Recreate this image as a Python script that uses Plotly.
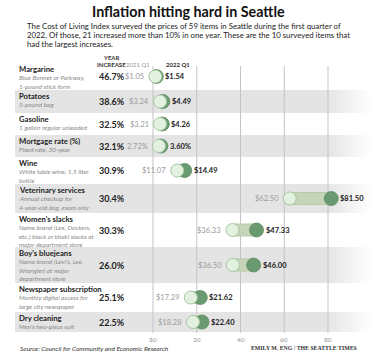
import plotly.graph_objects as go

# ---------------- data ----------------
items = ["Margarine", "Potatoes", "Gasoline", "Mortgage rate (%)", "Wine",
         "Veterinary services", "Women's slacks", "Boy's bluejeans",
         "Newspaper subscription", "Dry cleaning"]
details = [
    ["Blue Bonnet or Parkway,", "1-pound stick form"],
    ["5-pound bag"],
    ["1 gallon regular unleaded"],
    ["Fixed rate, 30-year"],
    ["White table wine, 1.5 liter", "bottle"],
    ["Annual checkup for", "4-year-old dog, exam only"],
    ["Name brand (Lee, Dockers,", "etc.) black or khaki slacks at", "major department store"],
    ["Name brand (Levi's, Lee,", "Wrangler) at major", "department store"],
    ["Monthly digital access for", "large city newspaper"],
    ["Men's two-piece suit"],
]
pct_increase = [46.7, 38.6, 32.5, 32.1, 30.9, 30.4, 30.3, 26.0, 25.1, 22.5]
q1_2021 = [1.05, 3.24, 3.21, 2.72, 11.07, 62.50, 36.33, 36.50, 17.29, 18.28]
q1_2022 = [1.54, 4.49, 4.26, 3.60, 14.49, 81.50, 47.33, 46.00, 21.62, 22.40]
unit_is_pct = [False, False, False, True, False, False, False, False, False, False]
tick_vals = [0, 20, 40, 60, 80]
tick_text = ["$0", "20", "40", "60", "80"]

title = "Inflation hitting hard in Seattle"
subtitle = ["The Cost of Living Index surveyed the prices of 59 items in Seattle during the first quarter of",
            "2022. Of those, 21 increased more than 10% in one year. These are the 10 surveyed items that",
            "had the largest increases."]
source = "Source: Council for Community and Economic Research"
credit = "EMILY M. ENG / THE SEATTLE TIMES"

# ---------------- layout helpers ----------------
W, H = 375, 359
row_edges = [63, 90, 113, 135, 157, 184, 213, 247, 283, 312, 332]
zero_px, px_per_unit = 153.0, 2.1875
x_lo = -zero_px / px_per_unit
x_hi = (W - zero_px) / px_per_unit

FONT = "Lato"
DARK = "#6a9a70"
LIGHT = "#e3f1e1"
LIGHT_EDGE = "#a6c9a3"
PILL = "#c6d5b8"
BAND = "#e4e4e4"

def fmt(v, pct):
    return f"{v:.2f}%" if pct else f"${v:.2f}"

centers = [(row_edges[i] + row_edges[i + 1]) / 2 for i in range(len(items))]

fig = go.Figure()
shapes = []
annotations = []

# background bands
for i in range(len(items)):
    if i % 2 == 1:
        y0, y1 = row_edges[i], row_edges[i + 1]
        shapes.append(dict(type="rect", xref="paper", yref="y", x0=15 / W, x1=328 / W,
                           y0=y0, y1=y1, fillcolor=BAND, line_width=0, layer="below"))
        steps = 14
        for s in range(steps):
            xa = 328 + s * 3
            op = 1 - (s + 1) / (steps + 1)
            shapes.append(dict(type="rect", xref="paper", yref="y", x0=xa / W, x1=(xa + 3) / W,
                               y0=y0, y1=y1, fillcolor=BAND, opacity=op, line_width=0, layer="below"))

# gridlines
for tv, tt in zip(tick_vals, tick_text):
    shapes.append(dict(type="line", xref="x", yref="y", x0=tv, x1=tv, y0=66, y1=333,
                       line=dict(color="#c4c4c4", width=1), layer="below"))
    annotations.append(dict(x=tv, y=339, xref="x", yref="y", text=tt, showarrow=False,
                            font=dict(family=FONT, size=6.5, color="#9a9a9a"),
                            xanchor="center", yanchor="middle"))

# pills
for i in range(len(items)):
    fig.add_trace(go.Scatter(x=[q1_2021[i], q1_2022[i]], y=[centers[i], centers[i]],
                             mode="lines", line=dict(color="#b7caa9", width=13),
                             hoverinfo="skip", showlegend=False))
    fig.add_trace(go.Scatter(x=[q1_2021[i], q1_2022[i]], y=[centers[i], centers[i]],
                             mode="lines", line=dict(color=PILL, width=11),
                             hoverinfo="skip", showlegend=False))

fig.add_trace(go.Scatter(x=q1_2022, y=centers, mode="markers",
                         marker=dict(size=14, color=DARK, line=dict(color="#5e8a65", width=0.8)),
                         showlegend=False, name="2022 Q1"))
fig.add_trace(go.Scatter(x=q1_2021, y=centers, mode="markers",
                         marker=dict(size=13, color=LIGHT, line=dict(color=LIGHT_EDGE, width=1)),
                         showlegend=False, name="2021 Q1"))

# value labels
for i in range(len(items)):
    annotations.append(dict(x=q1_2021[i], y=centers[i], xref="x", yref="y",
                            text=fmt(q1_2021[i], unit_is_pct[i]), showarrow=False,
                            xanchor="right", yanchor="middle", xshift=-9,
                            font=dict(family=FONT, size=7.5, color="#9a9a9a")))
    annotations.append(dict(x=q1_2022[i], y=centers[i], xref="x", yref="y",
                            text="<b>" + fmt(q1_2022[i], unit_is_pct[i]) + "</b>", showarrow=False,
                            xanchor="left", yanchor="middle", xshift=7,
                            font=dict(family=FONT, size=7.5, color="#222222")))
    # percent increase
    annotations.append(dict(x=112 / W, y=centers[i], xref="paper", yref="y",
                            text=f"<b>{pct_increase[i]:.1f}%</b>", showarrow=False,
                            xanchor="center", yanchor="middle",
                            font=dict(family=FONT, size=9, color="#222222")))
    # item name
    top = row_edges[i]
    annotations.append(dict(x=17 / W, y=top + 6, xref="paper", yref="y",
                            text=f"<b>{items[i]}</b>", showarrow=False,
                            xanchor="left", yanchor="middle",
                            font=dict(family=FONT, size=7.7, color="#222222")))
    for j, line in enumerate(details[i]):
        annotations.append(dict(x=17 / W, y=top + 14.8 + j * 8.2, xref="paper", yref="y",
                                text=f"<i>{line}</i>", showarrow=False,
                                xanchor="left", yanchor="middle",
                                font=dict(family=FONT, size=6.5, color="#8a8a8a")))

# headers
annotations += [
    dict(x=111 / W, y=57, xref="paper", yref="y", text="<b>YEAR</b>", showarrow=False,
         xanchor="center", yanchor="middle", font=dict(family=FONT, size=6, color="#333")),
    dict(x=111 / W, y=64.5, xref="paper", yref="y", text="<b>INCREASE</b>", showarrow=False,
         xanchor="center", yanchor="middle", font=dict(family=FONT, size=6, color="#333")),
    dict(x=138 / W, y=64.5, xref="paper", yref="y", text="2021 Q1", showarrow=False,
         xanchor="center", yanchor="middle", font=dict(family=FONT, size=6, color="#999")),
    dict(x=178 / W, y=64.5, xref="paper", yref="y", text="<b>2022 Q1</b>", showarrow=False,
         xanchor="center", yanchor="middle", font=dict(family=FONT, size=6, color="#333")),
]

# title / subtitle / footer
annotations.append(dict(x=188 / W, y=11, xref="paper", yref="y", text=f"<b>{title}</b>",
                        showarrow=False, xanchor="center", yanchor="middle",
                        font=dict(family=FONT, size=14.3, color="#111")))
for k, line in enumerate(subtitle):
    annotations.append(dict(x=25 / W, y=25.5 + k * 9.2, xref="paper", yref="y", text=line,
                            showarrow=False, xanchor="left", yanchor="middle",
                            font=dict(family=FONT, size=7.8, color="#222")))
annotations.append(dict(x=18 / W, y=348, xref="paper", yref="y", text=f"<i>{source}</i>",
                        showarrow=False, xanchor="left", yanchor="middle",
                        font=dict(family=FONT, size=6.5, color="#333")))
annotations.append(dict(x=359 / W, y=348, xref="paper", yref="y", text=f"<b>{credit}</b>",
                        showarrow=False, xanchor="right", yanchor="middle",
                        font=dict(family="Liberation Serif", size=5.8, color="#333")))

fig.update_layout(
    width=W, height=H, margin=dict(l=0, r=0, t=0, b=0),
    paper_bgcolor="white", plot_bgcolor="white",
    xaxis=dict(range=[x_lo, x_hi], visible=False, fixedrange=True),
    yaxis=dict(range=[H, 0], visible=False, fixedrange=True),
    shapes=shapes, annotations=annotations, showlegend=False,
)

fig.write_html("out.html", post_script="document.body.style.margin='0';",
               config={"displayModeBar": False})
